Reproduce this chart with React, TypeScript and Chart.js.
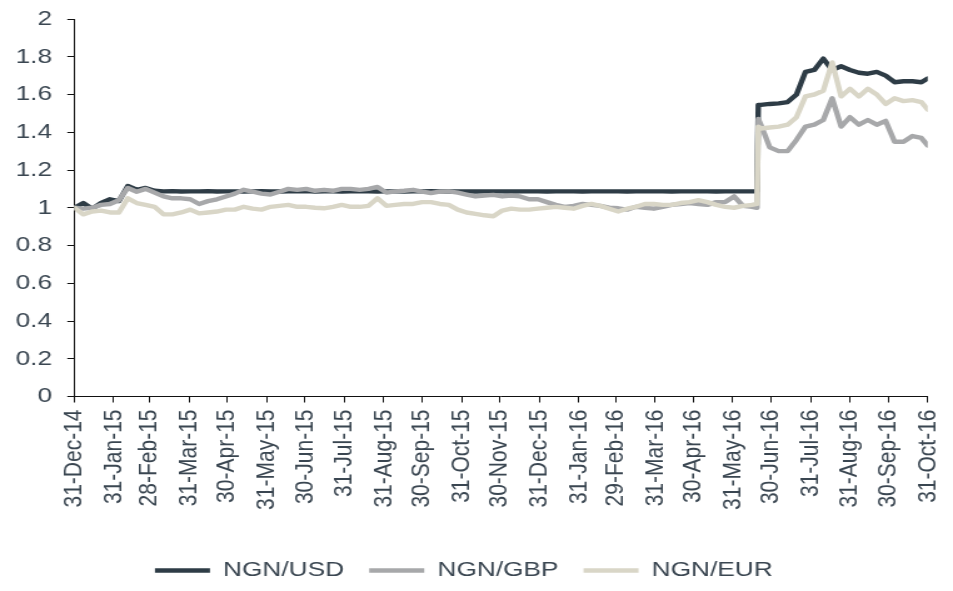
import React, { useEffect, useRef } from "react";
import { Chart, registerables } from "chart.js";

Chart.register(...registerables);

// Day offsets from 31-Dec-2014
const DAYS = [
  0, 7, 14, 21, 28, 35, 42, 49, 56, 63, 70, 77, 84, 91, 98, 105, 112, 119, 126, 133,
  140, 147, 154, 161, 168, 175, 182, 189, 196, 203, 210, 217, 224, 231, 238, 245, 252, 259, 266, 273,
  280, 287, 294, 301, 308, 315, 322, 329, 336, 343, 350, 357, 364, 371, 378, 385, 392, 399, 406, 413,
  420, 427, 434, 441, 448, 455, 462, 469, 476, 483, 490, 497, 504, 511, 518, 525, 532,
  536, 537,
  539, 546, 553, 560, 567, 574, 581, 588, 595, 602, 609, 616, 623, 630, 637, 644, 651, 658, 665,
  670,
];

const NGN_USD = [
  1.0, 1.025, 0.995, 1.025, 1.045, 1.035, 1.115, 1.095, 1.105, 1.09,
  1.087, 1.088, 1.086, 1.087, 1.087, 1.088, 1.086, 1.087, 1.087, 1.086,
  1.087, 1.088, 1.087, 1.086, 1.087, 1.087, 1.088, 1.086, 1.087, 1.087,
  1.086, 1.087, 1.088, 1.087, 1.086, 1.087, 1.087, 1.086, 1.087, 1.087,
  1.088, 1.087, 1.086, 1.087, 1.087, 1.086, 1.087, 1.087, 1.087, 1.086,
  1.087, 1.087, 1.087, 1.086, 1.087, 1.087, 1.087, 1.086, 1.087, 1.087,
  1.087, 1.087, 1.086, 1.087, 1.087, 1.087, 1.087, 1.086, 1.087, 1.087,
  1.087, 1.087, 1.086, 1.087, 1.087, 1.087, 1.087,
  1.087, 1.545,
  1.545, 1.55, 1.553, 1.56, 1.6, 1.72, 1.73, 1.79, 1.73, 1.75, 1.73, 1.715, 1.71, 1.72, 1.7, 1.665, 1.67, 1.67, 1.665,
  1.685,
];

const NGN_GBP = [
  1.0, 0.995, 1.0, 1.015, 1.02, 1.04, 1.105, 1.085, 1.1, 1.08,
  1.06, 1.05, 1.05, 1.045, 1.02, 1.035, 1.045, 1.06, 1.075, 1.095,
  1.085, 1.075, 1.07, 1.085, 1.1, 1.095, 1.1, 1.09, 1.095, 1.09,
  1.1, 1.1, 1.095, 1.1, 1.11, 1.08, 1.087, 1.09, 1.095, 1.085,
  1.078, 1.085, 1.087, 1.08, 1.07, 1.06, 1.065, 1.068, 1.06, 1.065,
  1.06, 1.045, 1.045, 1.03, 1.015, 1.005, 1.01, 1.02, 1.015, 1.01,
  1.0, 0.997, 0.99, 1.005, 1.0, 0.995, 1.005, 1.015, 1.02, 1.025,
  1.02, 1.015, 1.03, 1.03, 1.06, 1.01, 1.005,
  1.0, 1.47,
  1.44, 1.32, 1.3, 1.3, 1.36, 1.43, 1.44, 1.465, 1.58, 1.43, 1.48, 1.44, 1.465, 1.44, 1.46, 1.35, 1.35, 1.38, 1.37,
  1.33,
];

const NGN_EUR = [
  1.0, 0.965, 0.98, 0.985, 0.975, 0.975, 1.05, 1.025, 1.015, 1.005,
  0.965, 0.965, 0.975, 0.99, 0.97, 0.975, 0.98, 0.99, 0.99, 1.005,
  0.995, 0.99, 1.005, 1.01, 1.015, 1.005, 1.005, 1.0, 0.997, 1.005,
  1.015, 1.005, 1.005, 1.01, 1.05, 1.01, 1.015, 1.02, 1.02, 1.03,
  1.03, 1.02, 1.015, 0.99, 0.975, 0.968, 0.96, 0.955, 0.985, 0.995,
  0.99, 0.99, 0.995, 1.0, 1.005, 1.0, 0.995, 1.01, 1.02, 1.01,
  0.995, 0.98, 0.995, 1.005, 1.02, 1.02, 1.015, 1.015, 1.025, 1.03,
  1.04, 1.03, 1.015, 1.005, 1.0, 1.01, 1.015,
  1.02, 1.43,
  1.42, 1.425, 1.43, 1.44, 1.48, 1.59, 1.6, 1.62, 1.77, 1.59, 1.63, 1.59, 1.63, 1.6, 1.55, 1.58, 1.565, 1.57, 1.56,
  1.52,
];

const TICK_DAYS = [0, 31, 59, 90, 120, 151, 181, 212, 243, 273, 304, 334, 365, 396, 425, 456, 486, 517, 547, 578, 609, 639, 670];
const TICK_LABELS = [
  "31-Dec-14", "31-Jan-15", "28-Feb-15", "31-Mar-15", "30-Apr-15", "31-May-15", "30-Jun-15", "31-Jul-15",
  "31-Aug-15", "30-Sep-15", "31-Oct-15", "30-Nov-15", "31-Dec-15", "31-Jan-16", "29-Feb-16", "31-Mar-16",
  "30-Apr-16", "31-May-16", "30-Jun-16", "31-Jul-16", "31-Aug-16", "30-Sep-16", "31-Oct-16",
];

const SERIES_LABELS = ["NGN/USD", "NGN/GBP", "NGN/EUR"];
const COLORS = ["#2e3c46", "#a7a8aa", "#d9d6c7"];

// The reference is horizontally stretched relative to its vertical scale.
const W = 953;
const H = 591;
const CW = 762; // internal canvas width
const K = W / CW; // horizontal stretch factor

export default function App() {
  const ref = useRef<HTMLCanvasElement>(null);

  useEffect(() => {
    if (!ref.current) return;
    const font = { family: "'Liberation Sans', Arial, sans-serif", size: 21 };
    const textColor = "#3a4651";
    const mk = (vals: number[]) => vals.map((v, i) => ({ x: DAYS[i], y: v }));
    const all = [NGN_USD, NGN_GBP, NGN_EUR];
    const chart = new Chart(ref.current, {
      type: "line",
      data: {
        datasets: all.map((vals, k) => ({
          label: SERIES_LABELS[k],
          data: mk(vals),
          borderColor: COLORS[k],
          backgroundColor: COLORS[k],
          borderWidth: 4.4,
          order: 3 - k,
        })),
      },
      options: {
        animation: false,
        responsive: false,
        maintainAspectRatio: false,
        devicePixelRatio: 1,
        elements: {
          point: { radius: 0 },
          line: { tension: 0, borderCapStyle: "round", borderJoinStyle: "round" },
        },
        layout: { padding: { top: 19, right: CW - 927.7 / K, bottom: 0, left: 0 } },
        scales: {
          x: {
            type: "linear",
            min: 0,
            max: 670,
            afterBuildTicks: (s: any) => {
              s.ticks = TICK_DAYS.map((v) => ({ value: v }));
            },
            afterFit: (s: any) => {
              s.height = 143.5;
              s.paddingLeft = 0;
              s.paddingRight = 0;
            },
            ticks: {
              autoSkip: false,
              maxRotation: 90,
              minRotation: 90,
              padding: 7,
              color: textColor,
              font,
              callback: (_v: any, i: number) => TICK_LABELS[i],
            },
            grid: { drawOnChartArea: false, drawTicks: true, tickLength: 6, color: "#111" },
            border: { display: true, color: "#111", width: 1 },
          },
          y: {
            min: 0,
            max: 2,
            afterFit: (s: any) => {
              s.width = 74.3 / K;
              s.paddingTop = 0;
              s.paddingBottom = 0;
            },
            ticks: {
              stepSize: 0.2,
              padding: 12.2,
              color: textColor,
              font,
              callback: (v: any) => String(Math.round(Number(v) * 10) / 10),
            },
            grid: { drawOnChartArea: false, drawTicks: true, tickLength: 5.6, color: "#111" },
            border: { display: true, color: "#111", width: 1 },
          },
        },
        plugins: {
          legend: {
            position: "bottom",
            maxHeight: 53.5,
            labels: {
              usePointStyle: true,
              pointStyle: "line",
              pointStyleWidth: 44,
              padding: 20,
              color: textColor,
              font,
              sort: (a: any, b: any) => a.datasetIndex - b.datasetIndex,
            },
          },
          tooltip: { enabled: false },
        },
      },
    } as any);
    return () => chart.destroy();
  }, []);

  return (
    <div style={{ position: "fixed", left: 0, top: 0, width: W, height: H, background: "#fff", overflow: "hidden" }}>
      <canvas
        ref={ref}
        width={CW}
        height={H}
        style={{
          width: CW,
          height: H,
          display: "block",
          transform: `scaleX(${K})`,
          transformOrigin: "0 0",
        }}
      />
    </div>
  );
}
